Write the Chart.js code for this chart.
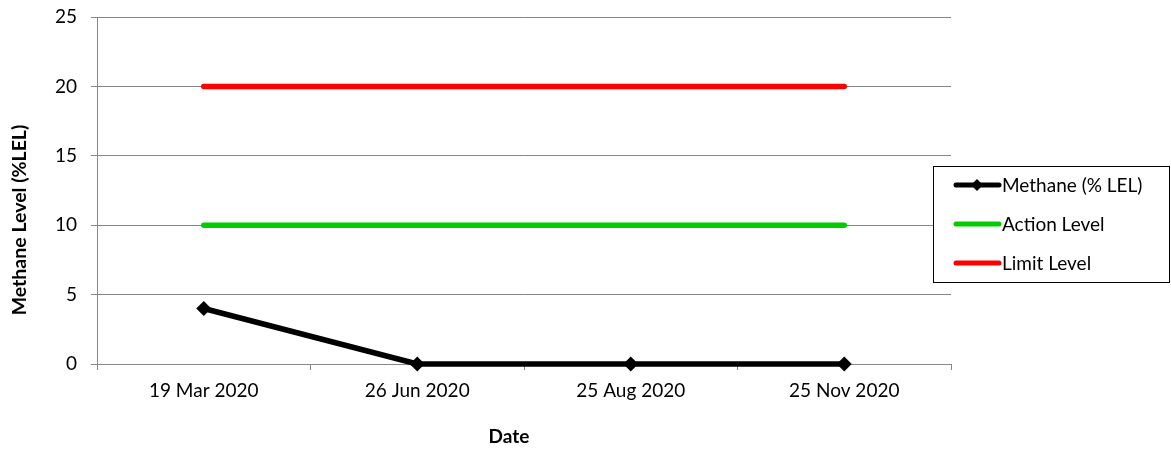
<!DOCTYPE html>
<html>
<head>
<meta charset="utf-8">
<script src="https://cdn.jsdelivr.net/npm/chart.js@4"></script>
<style>
html,body{margin:0;padding:0;background:#fff;}
#wrap{width:1171px;height:450px;position:relative;}
</style>
</head>
<body>
<div id="wrap"><canvas id="c" width="1171" height="450"></canvas></div>
<script>
const categories = ['19 Mar 2020', '26 Jun 2020', '25 Aug 2020', '25 Nov 2020'];
const methane = [4, 0, 0, 0];
const actionLevel = [10, 10, 10, 10];
const limitLevel = [20, 20, 20, 20];
const seriesNames = ['Methane (% LEL)', 'Action Level', 'Limit Level'];
const yTicks = [0, 5, 10, 15, 20, 25];
const xTitle = 'Date';
const yTitle = 'Methane Level (%LEL)';

const FONT = 'Lato';
const GRID = '#868686';

const titlesPlugin = {
  id: 'axisTitles',
  afterDraw(chart) {
    const ctx = chart.ctx;
    ctx.save();
    ctx.fillStyle = '#000';
    ctx.textAlign = 'center';
    ctx.textBaseline = 'middle';
    ctx.font = 'bold 19px ' + FONT;
    ctx.fillText(xTitle, 509, 437);
    ctx.translate(20, 220);
    ctx.rotate(-Math.PI / 2);
    ctx.font = 'bold 19.5px ' + FONT;
    ctx.fillText(yTitle, 0, 0);
    ctx.restore();
  }
};

const legendPlugin = {
  id: 'boxLegend',
  afterDraw(chart) {
    const ctx = chart.ctx;
    const x0 = 933, y0 = 166, w = 237, h = 117;
    ctx.save();
    ctx.fillStyle = '#fff';
    ctx.fillRect(x0, y0, w, h);
    ctx.strokeStyle = '#000';
    ctx.lineWidth = 1;
    ctx.strokeRect(x0 + 0.5, y0 + 0.5, w - 1, h - 1);
    const rows = [185, 224, 263];
    chart.data.datasets.forEach((ds, i) => {
      const y = rows[i];
      ctx.strokeStyle = ds.borderColor;
      ctx.lineWidth = 5;
      ctx.lineCap = 'round';
      ctx.beginPath();
      ctx.moveTo(956, y);
      ctx.lineTo(999, y);
      ctx.stroke();
      if (ds.pointRadius > 0) {
        ctx.fillStyle = ds.pointBackgroundColor;
        ctx.beginPath();
        const r = 6;
        ctx.moveTo(977, y - r);
        ctx.lineTo(977 + r, y);
        ctx.lineTo(977, y + r);
        ctx.lineTo(977 - r, y);
        ctx.closePath();
        ctx.fill();
      }
      ctx.fillStyle = '#000';
      ctx.font = '19px ' + FONT;
      ctx.textAlign = 'left';
      ctx.textBaseline = 'middle';
      ctx.fillText(ds.label, 1002, y + 1);
    });
    ctx.restore();
  }
};

new Chart(document.getElementById('c'), {
  type: 'line',
  data: {
    labels: categories,
    datasets: [
      {
        label: seriesNames[0], data: methane, clip: false,
        borderColor: '#000', backgroundColor: '#000',
        pointBackgroundColor: '#000', pointBorderColor: '#000',
        pointStyle: 'rectRot', pointRadius: 7.5, pointBorderWidth: 0,
        borderWidth: 5.5, borderCapStyle: 'round', borderJoinStyle: 'round', tension: 0
      },
      {
        label: seriesNames[1], data: actionLevel, clip: false,
        borderColor: '#00CC00', backgroundColor: '#00CC00',
        pointRadius: 0, borderWidth: 5.5, borderCapStyle: 'round', tension: 0
      },
      {
        label: seriesNames[2], data: limitLevel, clip: false,
        borderColor: '#FF0000', backgroundColor: '#FF0000',
        pointRadius: 0, borderWidth: 5.5, borderCapStyle: 'round', tension: 0
      }
    ]
  },
  options: {
    responsive: false,
    animation: false,
    events: [],
    layout: { autoPadding: false, padding: { top: 17, right: 220, left: 0, bottom: 0 } },
    plugins: { legend: { display: false }, tooltip: { enabled: false } },
    scales: {
      x: {
        type: 'category',
        offset: true,
        grid: { offset: true, drawOnChartArea: false, drawTicks: true, tickLength: 6, color: GRID, lineWidth: 1 },
        border: { display: true, color: GRID, width: 1 },
        ticks: { color: '#000', font: { family: FONT, size: 19 }, padding: 9, maxRotation: 0, autoSkip: false },
        title: { display: false },
        afterFit(scale) { scale.height = 86; scale.paddingLeft = 0; scale.paddingRight = 0; }
      },
      y: {
        min: 0, max: 25,
        afterBuildTicks(scale) { scale.ticks = yTicks.map(v => ({ value: v })); },
        grid: { color: GRID, lineWidth: 1, drawTicks: true, tickLength: 6 },
        border: { display: true, color: GRID, width: 1 },
        ticks: { color: '#000', font: { family: FONT, size: 19 }, padding: 14 },
        title: { display: false },
        afterFit(scale) { scale.width = 97; scale.paddingTop = 0; scale.paddingBottom = 0; }
      }
    }
  },
  plugins: [legendPlugin, titlesPlugin]
});
</script>
</body>
</html>
